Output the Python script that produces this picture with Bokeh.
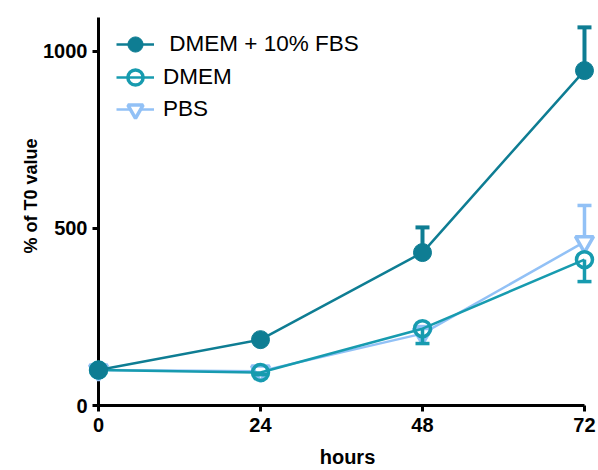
from bokeh.plotting import figure
from bokeh.models import Range1d, Title, Legend, LegendItem, ColumnDataSource
from bokeh.embed import file_html
from bokeh.resources import INLINE

hours = [0, 24, 48, 72]
tick_hours = [0, 24, 48, 72]
tick_values = [0, 500, 1000]

fbs_mean = [100, 186, 432, 946]
fbs_err_up = [0, 8, 71, 122]

dmem_mean = [100, 93, 217, 412]
dmem_err_down = [0, 6, 42, 62]

pbs_mean = [100, 97, 203, 462]
pbs_err_up = [0, 6, 20, 103]

labels = ["\u00a0DMEM + 10% FBS", "DMEM", "PBS"]

C_FBS = "#0E7D93"
C_DMEM = "#179BAF"
C_PBS = "#92C1F6"
FONT = "Liberation Sans"

p = figure(width=596, height=470,
           x_range=Range1d(0, 73.78), y_range=Range1d(0, 1110),
           output_backend="svg", toolbar_location=None,
           min_border_left=98, min_border_right=0, min_border_top=12, min_border_bottom=65)
p.grid.visible = False
p.outline_line_color = None
p.background_fill_color = "white"

for ax in (p.xaxis[0], p.yaxis[0]):
    ax.axis_line_width = 3
    ax.axis_line_color = "black"
    ax.major_tick_line_width = 3
    ax.major_tick_line_color = "black"
    ax.major_tick_out = 6
    ax.major_tick_in = 0
    ax.minor_tick_line_color = None
    ax.major_label_text_font = FONT
    ax.major_label_text_font_style = "bold"
    ax.major_label_text_font_size = "20px"
    ax.major_label_text_color = "black"

p.xaxis.ticker = tick_hours
p.xaxis.bounds = (0, 72)
p.xaxis.major_label_standoff = 6
p.xaxis.axis_label = "hours"
p.xaxis.axis_label_text_font = FONT
p.xaxis.axis_label_text_font_style = "bold"
p.xaxis.axis_label_text_font_size = "20px"
p.xaxis.axis_label_text_color = "black"
p.xaxis.axis_label_standoff = 11

p.yaxis.ticker = tick_values
p.yaxis.bounds = (0, 1095)
p.yaxis.major_label_standoff = 5

p.add_layout(Title(text="% of T0 value", text_font=FONT, text_font_size="18px",
                   text_font_style="bold", text_color="black", align="left",
                   standoff=0, offset=152), "left")

def series(mean, err, up, color, marker, lw_err, size, fill):
    lo = [m - (0 if up else e) for m, e in zip(mean, err)]
    hi = [m + (e if up else 0) for m, e in zip(mean, err)]
    cap = hi if up else lo
    src = ColumnDataSource(dict(x=hours, y=mean, lo=lo, hi=hi, cap=cap))
    rs = []
    rs.append(p.segment(x0="x", y0="lo", x1="x", y1="hi", source=src, line_color=color, line_width=lw_err))
    rs.append(p.scatter(x="x", y="cap", source=src, marker="dash", size=14, line_color=color, line_width=lw_err))
    ln = p.line(x="x", y="y", source=src, line_color=color, line_width=2.5)
    if fill:
        pts = p.scatter(x="x", y="y", source=src, marker=marker, size=size,
                        fill_color=color, line_color=color, line_width=1)
    else:
        pts = p.scatter(x="x", y="y", source=src, marker=marker, size=size,
                        fill_color="white", fill_alpha=0.0 if marker == "circle" else 1.0,
                        line_color=color, line_width=3.5)
    for r in rs + [ln, pts]:
        r.level = "overlay"
    return ln, pts

pbs_r = series(pbs_mean, pbs_err_up, True, C_PBS, "inverted_triangle", 3.5, 18, False)
dmem_r = series(dmem_mean, dmem_err_down, False, C_DMEM, "circle", 3.5, 16, False)
fbs_r = series(fbs_mean, fbs_err_up, True, C_FBS, "circle", 4, 18, True)

legend_offsets = [342, 309, 277]
for lab, rr, yoff in zip(labels, [fbs_r, dmem_r, pbs_r], legend_offsets):
    lg = Legend(items=[LegendItem(label=lab, renderers=list(rr))], location=(18, yoff))
    lg.border_line_color = None
    lg.background_fill_alpha = 0
    lg.padding = 0
    lg.margin = 0
    lg.spacing = 0
    lg.glyph_width = 38
    lg.glyph_height = 38
    lg.label_height = 38
    lg.label_standoff = 9
    lg.label_text_font = FONT
    lg.label_text_font_size = "22.5px"
    lg.label_text_color = "black"
    p.add_layout(lg, "center")

open("out.html", "w").write(file_html(p, INLINE))
